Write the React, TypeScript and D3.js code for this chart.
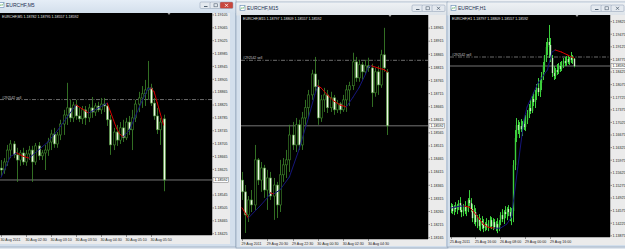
import React from "react";
import * as d3 from "d3";

type Bar = [number, number, number, number];
type Pt = [number, number];

const symbol = "EURCHF";
const bidPrice = 1.18592;
const sellPrice = 1.18842;
const orderLabel = "#292542 sell";

const m5Bars: Bar[] = [
  [1.18629, 1.18654, 1.18604, 1.18623], [1.18623, 1.1866, 1.18611, 1.18648], [1.18648, 1.18701, 1.18636, 1.18685],
  [1.18685, 1.18716, 1.1866, 1.18704], [1.18704, 1.18713, 1.1866, 1.1867], [1.1867, 1.18692, 1.18586, 1.18654],
  [1.18654, 1.18685, 1.18636, 1.18676], [1.18676, 1.18692, 1.18639, 1.18648], [1.18648, 1.18685, 1.18636, 1.18673],
  [1.18673, 1.18698, 1.18654, 1.18685], [1.18685, 1.18698, 1.18586, 1.18648], [1.18648, 1.18707, 1.18639, 1.18698],
  [1.18698, 1.1871, 1.18654, 1.18667], [1.18667, 1.18685, 1.18654, 1.18676], [1.18676, 1.18701, 1.18623, 1.18685],
  [1.18685, 1.18723, 1.18667, 1.1871], [1.1871, 1.18748, 1.18685, 1.18735], [1.18735, 1.18754, 1.18692, 1.18704],
  [1.18704, 1.18741, 1.18692, 1.18732], [1.18732, 1.18779, 1.18716, 1.18766], [1.18766, 1.1881, 1.18732, 1.18794],
  [1.18794, 1.18894, 1.18763, 1.18816], [1.18816, 1.18841, 1.18772, 1.18785], [1.18785, 1.18835, 1.18772, 1.18825],
  [1.18825, 1.18841, 1.18779, 1.18791], [1.18791, 1.18816, 1.18772, 1.18782], [1.18782, 1.18822, 1.18766, 1.1881],
  [1.1881, 1.18822, 1.18763, 1.18785], [1.18785, 1.18828, 1.18772, 1.18816], [1.18816, 1.1885, 1.18785, 1.18803],
  [1.18803, 1.18831, 1.18791, 1.18822], [1.18822, 1.18835, 1.18803, 1.1881], [1.1881, 1.18847, 1.18797, 1.18828],
  [1.18828, 1.18847, 1.18803, 1.18822], [1.18822, 1.18831, 1.1876, 1.18779], [1.18779, 1.18794, 1.1867, 1.18701],
  [1.18701, 1.18754, 1.18685, 1.18741], [1.18741, 1.18763, 1.18698, 1.18716], [1.18716, 1.18772, 1.18704, 1.18754],
  [1.18754, 1.18779, 1.1871, 1.18723], [1.18723, 1.18785, 1.18716, 1.18772], [1.18772, 1.18791, 1.18732, 1.18748],
  [1.18748, 1.1881, 1.18685, 1.18785], [1.18785, 1.18841, 1.18772, 1.18828], [1.18828, 1.18866, 1.18803, 1.18847],
  [1.18847, 1.18884, 1.18816, 1.1886], [1.1886, 1.18903, 1.18822, 1.18872], [1.18872, 1.18962, 1.18841, 1.18878],
  [1.18878, 1.18891, 1.18822, 1.18831], [1.18831, 1.18847, 1.18779, 1.18791], [1.18791, 1.18816, 1.18735, 1.18748],
  [1.18748, 1.18785, 1.18701, 1.18772], [1.18782, 1.18795, 1.18557, 1.18592],
];

const m15Bars: Bar[] = [
  [1.18385, 1.18416, 1.18309, 1.1834], [1.1834, 1.18366, 1.18183, 1.18252], [1.18252, 1.18324, 1.18225, 1.18309],
  [1.18309, 1.18347, 1.18263, 1.1829], [1.1829, 1.18519, 1.18271, 1.18462], [1.18462, 1.18469, 1.18366, 1.18385],
  [1.18385, 1.18454, 1.1834, 1.18431], [1.18431, 1.18443, 1.18317, 1.18347], [1.18347, 1.18424, 1.18271, 1.18393],
  [1.18393, 1.18416, 1.18309, 1.18324], [1.18324, 1.18393, 1.18233, 1.18366], [1.18366, 1.18378, 1.1824, 1.1829],
  [1.1829, 1.18462, 1.18263, 1.18405], [1.18405, 1.18469, 1.18378, 1.18443], [1.18443, 1.185, 1.18393, 1.18462],
  [1.18462, 1.18596, 1.18416, 1.18557], [1.18557, 1.18607, 1.185, 1.18519], [1.18519, 1.18622, 1.18492, 1.18596],
  [1.18596, 1.18615, 1.185, 1.18519], [1.18519, 1.18645, 1.185, 1.18622], [1.18622, 1.18691, 1.18596, 1.18661],
  [1.18661, 1.18729, 1.18622, 1.1871], [1.1871, 1.18806, 1.18691, 1.1879], [1.1879, 1.18855, 1.18722, 1.18741],
  [1.18741, 1.18768, 1.18596, 1.18622], [1.18622, 1.1871, 1.18607, 1.18691], [1.18691, 1.18737, 1.18645, 1.1871],
  [1.1871, 1.18729, 1.18641, 1.18661], [1.18661, 1.18722, 1.18645, 1.18699], [1.18699, 1.1871, 1.18634, 1.18653],
  [1.18653, 1.18691, 1.18641, 1.18676], [1.18676, 1.18683, 1.18638, 1.18653], [1.18653, 1.1871, 1.18645, 1.18691],
  [1.18691, 1.18748, 1.18645, 1.18729], [1.18729, 1.1876, 1.18668, 1.18745], [1.18745, 1.18871, 1.18729, 1.18836],
  [1.18836, 1.18855, 1.1876, 1.18775], [1.18775, 1.18844, 1.1876, 1.18825], [1.18825, 1.18836, 1.18768, 1.18798],
  [1.18798, 1.18844, 1.18787, 1.18821], [1.18821, 1.18852, 1.18798, 1.18813], [1.18813, 1.18829, 1.18664, 1.18718],
  [1.18718, 1.18813, 1.18703, 1.18798], [1.18798, 1.18821, 1.1871, 1.18748], [1.18748, 1.18882, 1.18737, 1.18863],
  [1.18863, 1.18966, 1.18798, 1.18813], [1.18797, 1.18809, 1.18557, 1.18592],
];

const h1Bars: Bar[] = [
  [1.14644, 1.14783, 1.14505, 1.147], [1.147, 1.14756, 1.14478, 1.14561], [1.14561, 1.14728, 1.1445, 1.14672],
  [1.14672, 1.14811, 1.14533, 1.14617], [1.14617, 1.14756, 1.14478, 1.14728], [1.14728, 1.14867, 1.14589, 1.14783],
  [1.14783, 1.1495, 1.14533, 1.14589], [1.14589, 1.14728, 1.14394, 1.14533], [1.14533, 1.14756, 1.14422, 1.14672],
  [1.14672, 1.14839, 1.14478, 1.14561], [1.14561, 1.147, 1.14422, 1.14644], [1.14644, 1.14922, 1.14533, 1.14867],
  [1.14867, 1.15145, 1.147, 1.14783], [1.14783, 1.14922, 1.14533, 1.14617], [1.14617, 1.14756, 1.14255, 1.14366],
  [1.14366, 1.14728, 1.142, 1.14533], [1.14533, 1.14644, 1.14144, 1.14255], [1.14255, 1.1445, 1.14088, 1.14339],
  [1.14339, 1.14478, 1.14033, 1.14144], [1.14144, 1.14366, 1.14005, 1.14283], [1.14283, 1.14422, 1.14061, 1.14172],
  [1.14172, 1.14339, 1.13977, 1.14088], [1.14088, 1.14255, 1.14005, 1.142], [1.142, 1.14366, 1.14033, 1.14116],
  [1.14116, 1.14311, 1.14005, 1.14227], [1.14227, 1.14422, 1.14088, 1.14311], [1.14311, 1.14394, 1.14061, 1.14144],
  [1.14144, 1.14366, 1.14033, 1.14255], [1.14255, 1.14339, 1.14061, 1.14116], [1.14116, 1.14283, 1.14005, 1.142],
  [1.142, 1.14366, 1.13949, 1.14088], [1.14088, 1.14311, 1.14005, 1.14255], [1.14255, 1.14533, 1.14172, 1.1445],
  [1.1445, 1.14617, 1.14255, 1.14339], [1.14339, 1.14589, 1.142, 1.14533], [1.14533, 1.147, 1.14366, 1.14478],
  [1.14478, 1.14672, 1.14311, 1.14617], [1.14617, 1.14728, 1.14422, 1.14533], [1.14533, 1.14672, 1.14283, 1.14422],
  [1.14422, 1.14644, 1.14172, 1.14561], [1.14561, 1.15979, 1.14255, 1.1584], [1.1584, 1.16813, 1.15701, 1.1659],
  [1.1659, 1.17146, 1.16479, 1.16952], [1.16952, 1.17091, 1.16702, 1.16813], [1.16813, 1.17035, 1.1659, 1.16924],
  [1.16924, 1.17119, 1.16757, 1.16841], [1.16841, 1.17063, 1.16646, 1.1698], [1.1698, 1.17146, 1.16813, 1.16896],
  [1.16896, 1.1723, 1.16785, 1.17091], [1.17091, 1.17369, 1.1698, 1.17285], [1.17285, 1.17536, 1.17146, 1.17424],
  [1.17424, 1.17647, 1.17258, 1.17341], [1.17341, 1.17758, 1.17285, 1.17675], [1.17675, 1.17869, 1.1748, 1.17591],
  [1.17591, 1.17925, 1.17424, 1.17814], [1.17814, 1.18092, 1.17647, 1.1798], [1.1798, 1.18258, 1.17758, 1.17869],
  [1.17869, 1.18203, 1.1773, 1.18119], [1.18119, 1.18425, 1.17925, 1.18314], [1.18314, 1.18703, 1.18203, 1.18592],
  [1.18592, 1.18898, 1.18425, 1.18814], [1.18814, 1.19259, 1.18703, 1.1912], [1.1912, 1.1937, 1.18898, 1.19259],
  [1.19259, 1.19732, 1.18814, 1.19176], [1.19176, 1.1937, 1.18703, 1.18814], [1.18814, 1.18898, 1.18286, 1.18397],
  [1.18397, 1.18592, 1.18203, 1.18314], [1.18314, 1.18536, 1.18231, 1.18481], [1.18481, 1.18648, 1.18342, 1.18425],
  [1.18425, 1.18675, 1.1837, 1.18592], [1.18592, 1.18703, 1.18425, 1.18509], [1.18509, 1.18731, 1.18453, 1.18648],
  [1.18648, 1.18814, 1.18536, 1.18731], [1.18731, 1.18842, 1.18592, 1.18675], [1.18675, 1.1887, 1.18592, 1.18787],
  [1.18787, 1.18898, 1.18648, 1.18703], [1.18703, 1.18842, 1.1862, 1.18814], [1.18814, 1.18981, 1.18675, 1.18759],
  [1.18759, 1.18898, 1.18648, 1.18787], [1.18797, 1.18809, 1.18557, 1.18592],
];

const m5Line: Pt[] = [
  [0, 1.186], [3, 1.18665], [5, 1.18676], [7, 1.18666], [9, 1.1866], [12, 1.18685], [15, 1.1871], [18, 1.18745],
  [21, 1.18785], [24, 1.18825], [26, 1.18813], [28, 1.188], [31, 1.18815], [34, 1.18831], [35, 1.18805], [36, 1.18778],
  [37, 1.18752], [38, 1.18735], [39, 1.18726], [41, 1.18745], [43, 1.1879], [45, 1.18835], [47, 1.18875], [48, 1.18878],
  [49, 1.18866], [50, 1.18832], [51, 1.18797], [52, 1.18763],
];
const m15Line: Pt[] = [
  [0, 1.18279], [2, 1.1824], [6, 1.1829], [8, 1.18317], [9, 1.18336], [10, 1.18332], [12, 1.18347], [15, 1.18397],
  [18, 1.185], [21, 1.18622], [23, 1.1871], [24, 1.18745], [25, 1.18737], [27, 1.1871], [29, 1.18687], [31, 1.18672],
  [33, 1.18664], [35, 1.18699], [37, 1.18737], [39, 1.18787], [40, 1.18817], [41, 1.18821], [43, 1.18813], [45, 1.18806],
  [46, 1.18798],
];
const h1Line: Pt[] = [
  [0, 1.14644], [3, 1.14672], [6, 1.147], [9, 1.147], [12, 1.14672], [15, 1.14533], [18, 1.14366], [21, 1.142],
  [24, 1.14116], [28, 1.14088], [32, 1.14088], [36, 1.142], [39, 1.14394], [43, 1.15756], [47, 1.17091], [49, 1.17452],
  [56, 1.18119], [62, 1.18481], [65, 1.18981], [67, 1.19037], [71, 1.18981], [75, 1.18898], [79, 1.18814],
];

const m5PriceTicks = [1.18425, 1.18465, 1.18505, 1.18545, 1.18585, 1.18625, 1.18665, 1.18705, 1.18745, 1.18785, 1.18825, 1.18865, 1.18905, 1.18945, 1.18985, 1.19025, 1.19065, 1.19105];
const m15PriceTicks = [1.18165, 1.18215, 1.18265, 1.18315, 1.18365, 1.18415, 1.18465, 1.18515, 1.18565, 1.18615, 1.18665, 1.18715, 1.18765, 1.18815, 1.18865, 1.18915, 1.18965];
const h1PriceTicks = [1.13875, 1.14225, 1.14575, 1.14925, 1.15275, 1.15625, 1.15975, 1.16325, 1.16675, 1.17025, 1.17375, 1.17725, 1.18075, 1.18425, 1.18775, 1.19125, 1.19475, 1.19825];

const m5TimeLabels = ["30 Aug 2011", "30 Aug 02:30", "30 Aug 03:10", "30 Aug 03:50", "30 Aug 04:30", "30 Aug 05:10", "30 Aug 05:50"];
const m15TimeLabels = ["29 Aug 2011", "29 Aug 20:30", "29 Aug 22:30", "30 Aug 00:30", "30 Aug 02:30", "30 Aug 04:30"];
const h1TimeLabels = ["25 Aug 2011", "25 Aug 16:00", "26 Aug 08:00", "29 Aug 00:00", "29 Aug 16:00"];

const FONT = "'Liberation Sans', Arial, sans-serif";
const STRIP = "#ebebeb";

interface Box { x0: number; x1: number; y0: number; y1: number }
interface PanelCfg {
  id: string; period: string; bars: Bar[]; line: Pt[]; ticks: number[]; timeLabels: string[]; labelEvery: number;
  frame: Box; titleY1: number; client: Box; plot: Box; barRange: [number, number]; yDomain: [number, number];
  bodyW: number; wick: string; bullFill: string; bearFill: string; active: boolean; shiftX: number;
}

function fmt(v: number) { return v.toFixed(5); }

function Panel({ c }: { c: PanelCfg }) {
  const n = c.bars.length;
  const x = d3.scaleLinear().domain([0, n - 1]).range(c.barRange);
  const y = d3.scaleLinear().domain(c.yDomain).range([c.plot.y1, c.plot.y0]);
  const last = c.bars[n - 1];
  const title = `${symbol},${c.period} ${fmt(last[0])} ${fmt(last[1])} ${fmt(last[2])} ${fmt(last[3])}`;
  const f = c.frame;
  const bw = f.x1 - f.x0;
  const btnW = 11;
  const btnY = f.y0 + 3;
  const btnRight = Math.min(f.x1 - 3, 624);
  const bidY = y(bidPrice);
  const sellY = y(sellPrice);
  const segs = c.line.slice(1).map((p, i) => {
    const a = c.line[i];
    const col = p[1] < a[1] ? "#d40000" : "#16167a";
    return { a, b: p, col };
  });
  return (
    <g>
      <rect x={f.x0} y={f.y0} width={bw} height={f.y1 - f.y0} fill="#d3dfec" stroke="#8396ad" strokeWidth={0.6} />
      <rect x={f.x0 + 0.5} y={f.y0 + 0.5} width={bw - 1} height={c.titleY1 - f.y0} fill={`url(#tb-${c.id})`} />
      <rect x={f.x0 + 4} y={f.y0 + 3.5} width={5} height={5} fill="#ffffff" stroke="#5f86b3" strokeWidth={0.6} />
      <path d={`M${f.x0 + 4.5},${f.y0 + 7.5} L${f.x0 + 6},${f.y0 + 5.5} L${f.x0 + 7},${f.y0 + 6.5} L${f.x0 + 8.5},${f.y0 + 4.5}`} stroke="#3a9a3a" strokeWidth={0.6} fill="none" />
      <text x={f.x0 + 11} y={f.y0 + 8.3} fontFamily={FONT} fontSize={5} fill="#1e3250">{`${symbol},${c.period}`}</text>
      {[2, 1, 0].map((k) => {
        const bx = btnRight - (k + 1) * btnW - (2 - k) * 1 + 0;
        const isClose = k === 0;
        const fill = isClose && c.active ? "#c9473d" : "#e4e9ef";
        return (
          <g key={k}>
            <rect x={bx} y={btnY} width={btnW + (isClose ? 2 : 0)} height={6.5} rx={1.2} fill={fill} stroke="#8b9bb0" strokeWidth={0.5} />
            {k === 2 && <rect x={bx + 4} y={btnY + 4} width={3.5} height={1} fill="#506070" />}
            {k === 1 && <rect x={bx + 4} y={btnY + 1.8} width={3.5} height={3} fill="none" stroke="#506070" strokeWidth={0.6} />}
            {k === 0 && <path d={`M${bx + 5},${btnY + 1.8} l3,3 M${bx + 8},${btnY + 1.8} l-3,3`} stroke={c.active ? "#fff" : "#506070"} strokeWidth={0.8} />}
          </g>
        );
      })}
      <rect x={c.client.x0} y={c.client.y0} width={c.client.x1 - c.client.x0} height={c.client.y1 - c.client.y0} fill={STRIP} />
      <rect x={c.plot.x0} y={c.plot.y0} width={c.plot.x1 - c.plot.x0} height={c.plot.y1 - c.plot.y0} fill="#000000" />
      <defs>
        <clipPath id={`clip-${c.id}`}>
          <rect x={c.plot.x0} y={c.plot.y0} width={c.plot.x1 - c.plot.x0} height={c.plot.y1 - c.plot.y0} />
        </clipPath>
      </defs>
      <g clipPath={`url(#clip-${c.id})`}>
        <line x1={c.plot.x0} x2={c.plot.x1} y1={sellY} y2={sellY} stroke="#9a9a9a" strokeWidth={0.7} strokeDasharray="4 1.5 1 1.5" />
        <line x1={c.plot.x0} x2={c.plot.x1} y1={bidY} y2={bidY} stroke="#a8a8a8" strokeWidth={0.7} />
        {c.bars.map((b, i) => {
          const cx = Math.round(x(i)) + 0.5;
          const [o, h, l, cl] = b;
          const top = y(Math.max(o, cl));
          const bot = y(Math.min(o, cl));
          const bull = cl >= o;
          return (
            <g key={i}>
              <line x1={cx} x2={cx} y1={y(h)} y2={y(l)} stroke={c.wick} strokeWidth={c.bodyW > 1.5 ? 0.8 : 1} />
              <rect x={cx - c.bodyW / 2} y={top} width={c.bodyW} height={Math.max(0.8, bot - top)}
                fill={bull ? c.bullFill : c.bearFill} stroke={c.wick} strokeWidth={c.bodyW > 1.5 ? 0.6 : 0} />
            </g>
          );
        })}
        {segs.map((s, i) => (
          <line key={i} x1={x(s.a[0])} y1={y(s.a[1])} x2={x(s.b[0])} y2={y(s.b[1])} stroke={s.col} strokeWidth={1} strokeLinecap="round" />
        ))}
        <text x={c.plot.x0 + 2} y={c.plot.y0 + 5} fontFamily={FONT} fontSize={3.6} fill="#e6e6e6">{title}</text>
        <text x={c.plot.x0 + 2} y={sellY - 1} fontFamily={FONT} fontSize={3.4} fill="#c8c8c8">{orderLabel}</text>
        <path d={`M${c.shiftX - 1.5},${c.plot.y0} L${c.shiftX + 1.5},${c.plot.y0} L${c.shiftX},${c.plot.y0 + 2} Z`} fill="#a0a0a0" />
      </g>
      <line x1={c.plot.x1 + 0.5} x2={c.plot.x1 + 0.5} y1={c.plot.y0} y2={c.plot.y1} stroke="#8a8a8a" strokeWidth={0.6} />
      <line x1={c.plot.x0} x2={c.plot.x1} y1={c.plot.y1 + 0.5} y2={c.plot.y1 + 0.5} stroke="#8a8a8a" strokeWidth={0.6} />
      {c.ticks.filter((t) => Math.abs(y(t) - bidY) > 4.5 && y(t) > c.plot.y0 && y(t) < c.plot.y1 + 1).map((t) => (
        <g key={t}>
          <line x1={c.plot.x1 + 0.5} x2={c.plot.x1 + 2} y1={y(t)} y2={y(t)} stroke="#333" strokeWidth={0.5} />
          <text x={c.plot.x1 + 2.5} y={y(t) + 1.3} fontFamily={FONT} fontSize={3.6} fill="#222">{fmt(t)}</text>
        </g>
      ))}
      <rect x={c.plot.x1 + 1} y={bidY - 2.3} width={15.5} height={4.6} fill="#ffffff" stroke="#555" strokeWidth={0.4} />
      <text x={c.plot.x1 + 2.5} y={bidY + 1.3} fontFamily={FONT} fontSize={3.6} fill="#000">{fmt(bidPrice)}</text>
      {c.timeLabels.map((lab, k) => {
        const tx = x(k * c.labelEvery);
        return (
          <g key={lab}>
            <line x1={Math.round(tx) + 0.5} x2={Math.round(tx) + 0.5} y1={c.plot.y1} y2={c.plot.y1 + 2} stroke="#333" strokeWidth={0.5} />
            <text x={tx - 0.5} y={c.plot.y1 + 5.8} fontFamily={FONT} fontSize={3.6} fill="#222">{lab}</text>
          </g>
        );
      })}
    </g>
  );
}

const panels: PanelCfg[] = [
  {
    id: "m5", period: "M5", bars: m5Bars, line: m5Line, ticks: m5PriceTicks, timeLabels: m5TimeLabels, labelEvery: 8,
    frame: { x0: -5, x1: 236, y0: -1, y1: 247 }, titleY1: 12.5,
    client: { x0: 0, x1: 230, y0: 13, y1: 244 }, plot: { x0: 0, x1: 212, y0: 13, y1: 235 },
    barRange: [1, 163.5], yDomain: [1.18421, 1.19111], bodyW: 2.2,
    wick: "#3f8a2c", bullFill: "#000000", bearFill: "#eef8e6", active: true, shiftX: 169,
  },
  {
    id: "m15", period: "M15", bars: m15Bars, line: m15Line, ticks: m15PriceTicks, timeLabels: m15TimeLabels, labelEvery: 8,
    frame: { x0: 236, x1: 448, y0: 2, y1: 248 }, titleY1: 15,
    client: { x0: 240, x1: 446, y0: 15, y1: 246 }, plot: { x0: 241, x1: 428, y0: 15, y1: 239 },
    barRange: [242, 387.4], yDomain: [1.1816, 1.19015], bodyW: 2.2,
    wick: "#3f8a2c", bullFill: "#000000", bearFill: "#eef8e6", active: false, shiftX: 390,
  },
  {
    id: "h1", period: "H1", bars: h1Bars, line: h1Line, ticks: h1PriceTicks, timeLabels: h1TimeLabels, labelEvery: 16,
    frame: { x0: 447, x1: 632, y0: 2, y1: 247 }, titleY1: 15,
    client: { x0: 450, x1: 632, y0: 15, y1: 245 }, plot: { x0: 450, x1: 610, y0: 15, y1: 237 },
    barRange: [450.5, 573.9], yDomain: [1.13842, 1.20009], bodyW: 1.4,
    wick: "#3ccf3c", bullFill: "#3ccf3c", bearFill: "#c8f5c0", active: false, shiftX: 577,
  },
];

export default function App() {
  return (
    <svg width={625} height={249} style={{ position: "absolute", left: 0, top: 0, display: "block" }}>
      <defs>
        {panels.map((p) => (
          <linearGradient key={p.id} id={`tb-${p.id}`} x1="0" y1="0" x2="0" y2="1">
            <stop offset="0" stopColor={p.active ? "#e6eef7" : "#eef1f4"} />
            <stop offset="1" stopColor={p.active ? "#d3dfec" : "#dde3e9"} />
          </linearGradient>
        ))}
      </defs>
      <rect x={0} y={0} width={625} height={249} fill="#eef1f5" />
      <rect x={0} y={244} width={625} height={5} fill="#dfe6ee" />
      {panels.map((p) => <Panel key={p.id} c={p} />)}
    </svg>
  );
}
